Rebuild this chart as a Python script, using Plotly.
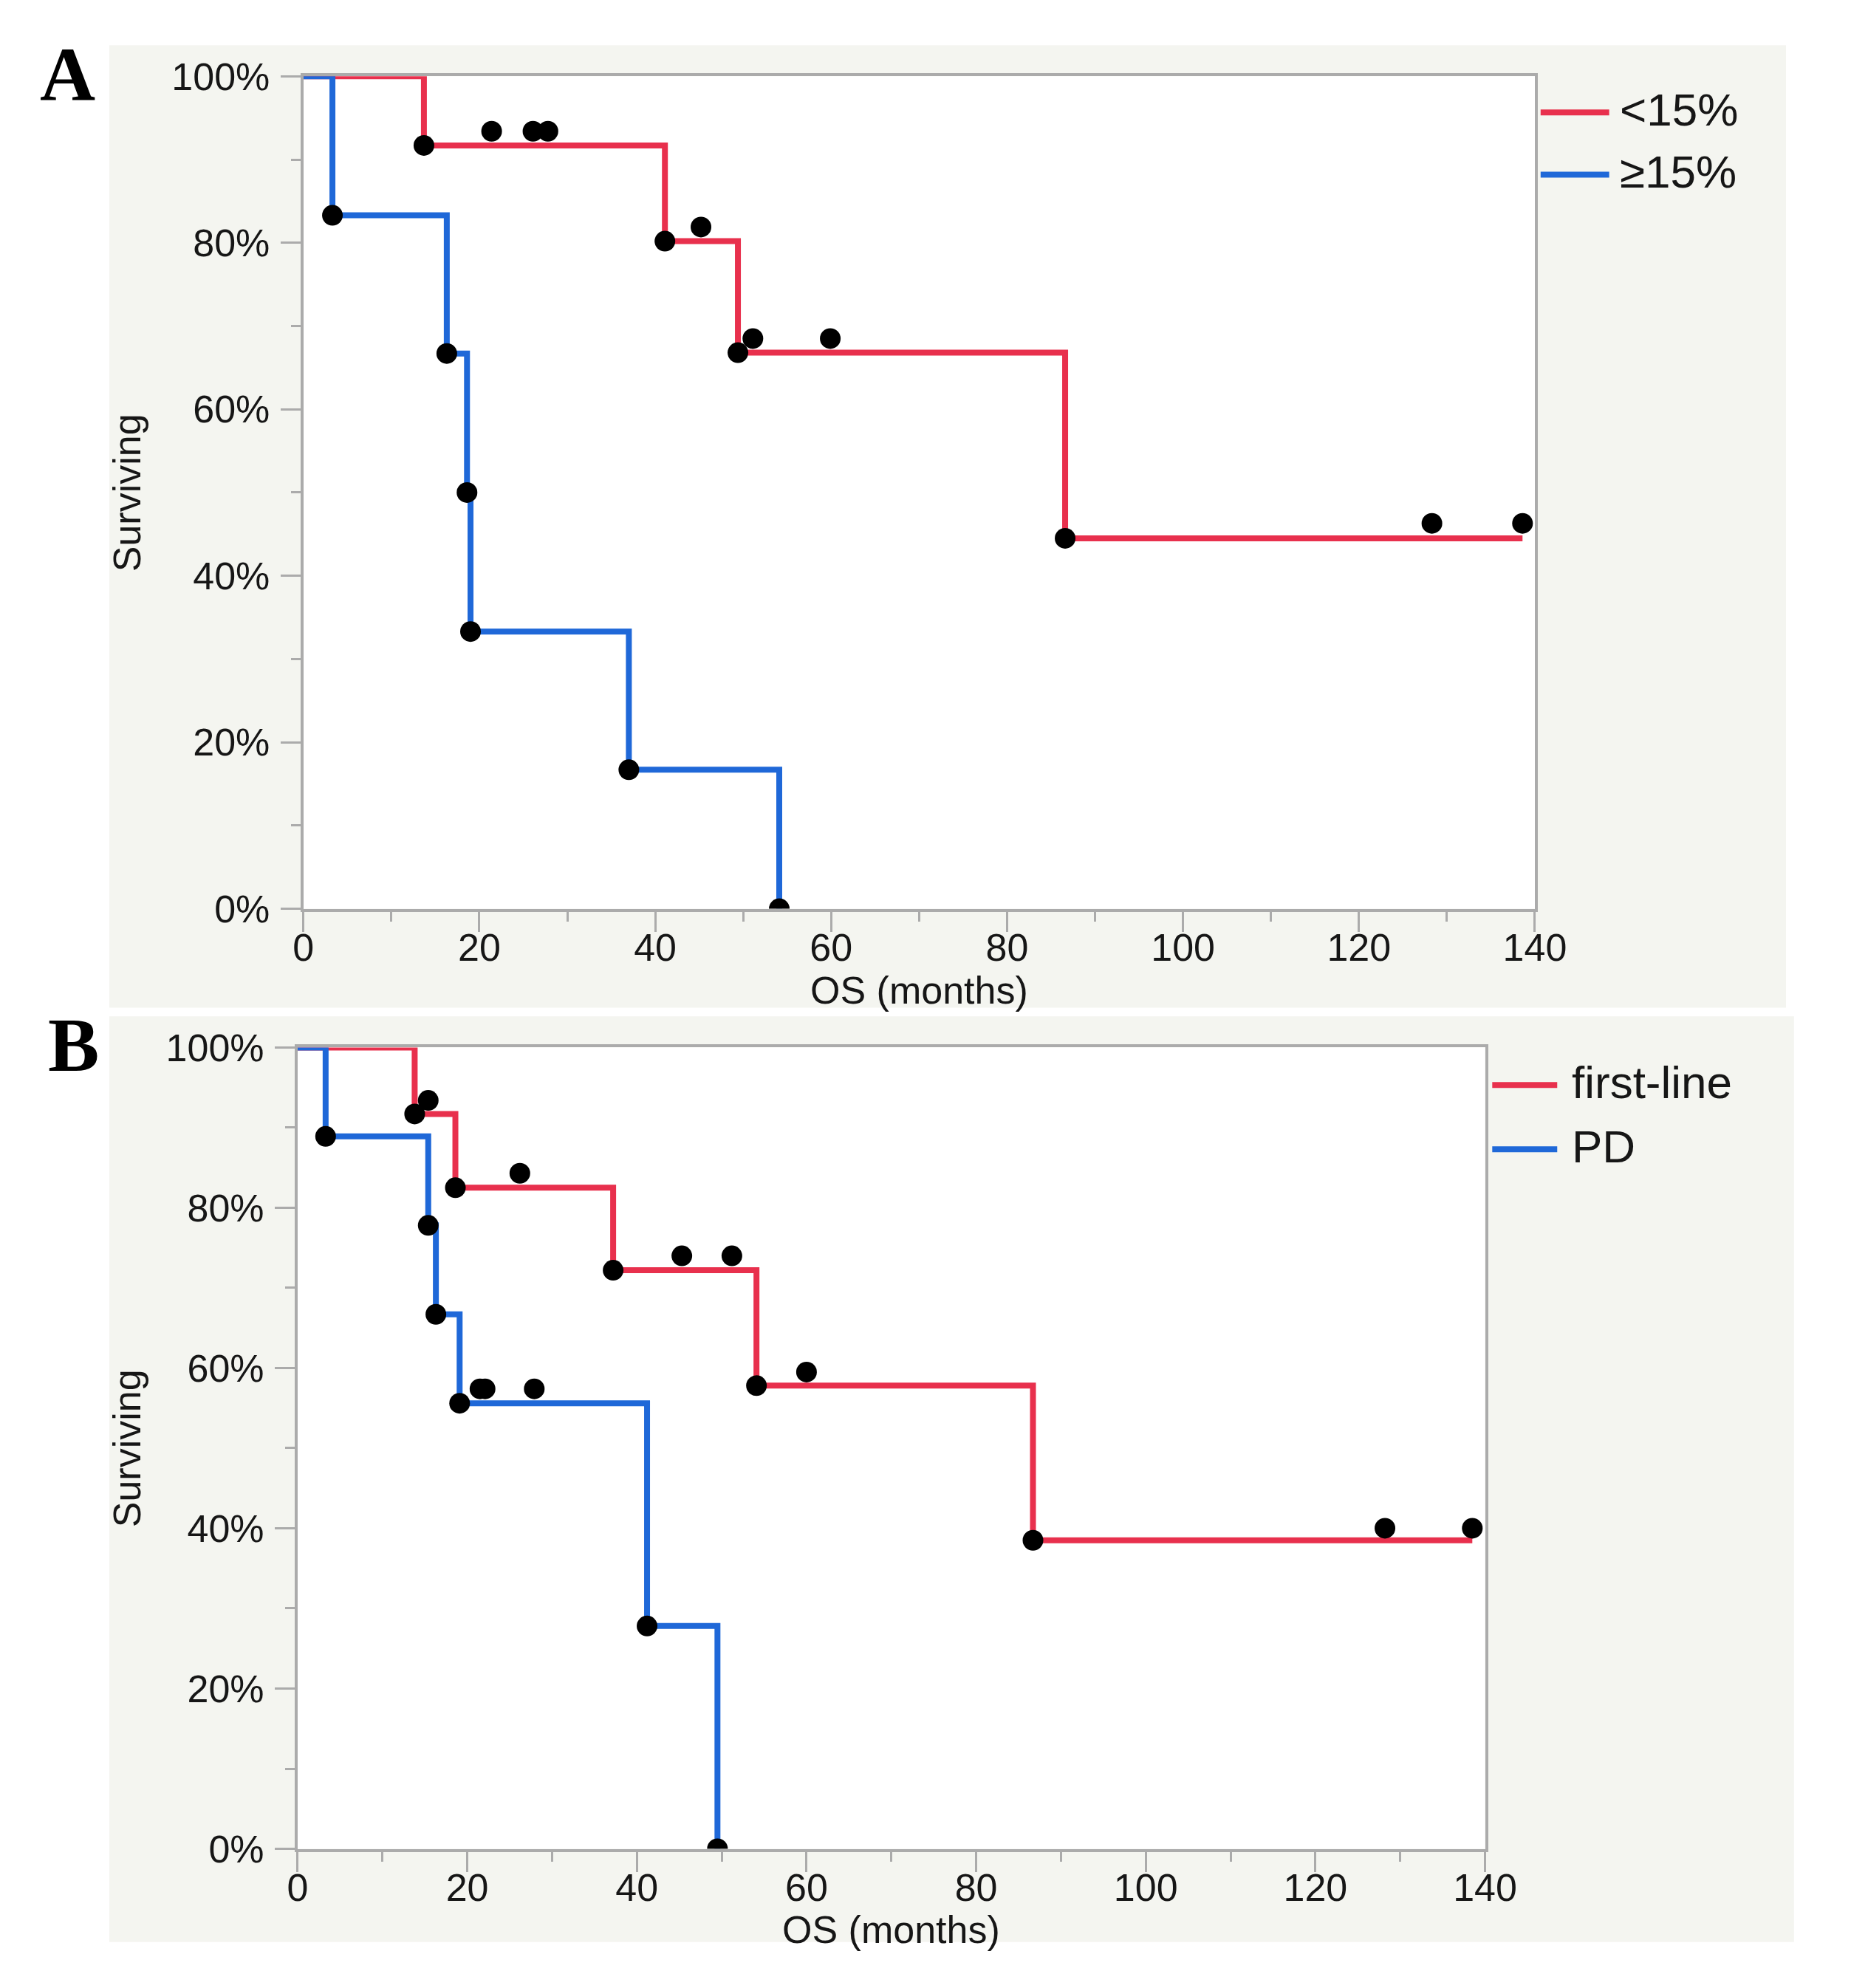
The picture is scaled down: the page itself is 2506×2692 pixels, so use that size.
import plotly.graph_objects as go

W, H = 2506, 2692

# ---------------- Panel A ----------------
a_low_time = [0, 13.7, 41.1, 49.4, 86.6, 138.6]
a_low_surv = [1.0, 0.917, 0.802, 0.668, 0.445, 0.445]
a_low_event_time = [13.7, 41.1, 49.4, 86.6]
a_low_event_surv = [0.917, 0.802, 0.668, 0.445]
a_low_cens_time = [21.4, 26.1, 27.8, 45.2, 51.1, 59.9, 128.3, 138.6]
a_low_cens_surv = [0.934, 0.934, 0.934, 0.819, 0.685, 0.685, 0.463, 0.463]

a_high_time = [0, 3.3, 16.3, 18.6, 19.0, 37.0, 54.1]
a_high_surv = [1.0, 0.833, 0.667, 0.5, 0.333, 0.167, 0.0]
a_high_event_time = [3.3, 16.3, 18.6, 19.0, 37.0, 54.1]
a_high_event_surv = [0.833, 0.667, 0.5, 0.333, 0.167, 0.0]

a_names = ["<15%", "\u226515%"]

# ---------------- Panel B ----------------
b_first_time = [0, 13.8, 18.6, 37.2, 54.1, 86.7, 138.5]
b_first_surv = [1.0, 0.917, 0.825, 0.722, 0.578, 0.385, 0.385]
b_first_event_time = [13.8, 18.6, 37.2, 54.1, 86.7]
b_first_event_surv = [0.917, 0.825, 0.722, 0.578, 0.385]
b_first_cens_time = [15.4, 26.2, 45.3, 51.2, 60.0, 128.2, 138.5]
b_first_cens_surv = [0.934, 0.843, 0.740, 0.740, 0.595, 0.400, 0.400]

b_pd_time = [0, 3.3, 15.4, 16.3, 19.1, 41.2, 49.5]
b_pd_surv = [1.0, 0.889, 0.778, 0.667, 0.556, 0.278, 0.0]
b_pd_event_time = [3.3, 15.4, 16.3, 19.1, 41.2, 49.5]
b_pd_event_surv = [0.889, 0.778, 0.667, 0.556, 0.278, 0.0]
b_pd_cens_time = [21.5, 22.1, 27.9]
b_pd_cens_surv = [0.574, 0.574, 0.574]

b_names = ["first-line", "PD"]

x_ticks = [0, 20, 40, 60, 80, 100, 120, 140]
y_ticks = [0, 0.2, 0.4, 0.6, 0.8, 1.0]

RED = "#E8304D"
BLUE = "#1F68D8"
AXC = "#ABABAB"
PANEL_BG = "#F4F5F0"
FONT = "Liberation Sans"
TXT = "#161616"


def fx(px):
    return px / W


def fy(py):
    return 1 - py / H


# plot area rectangles in pixels (left, top, right, bottom)
A_BOX = (406, 76, 2112, 1228)
B_BOX = (398, 1420, 2043, 2529)

fig = go.Figure()


def add_curve(t, s, color, xa, ya):
    fig.add_trace(go.Scatter(x=t, y=s, mode="lines", line=dict(color=color, width=8, shape="hv"),
                             xaxis=xa, yaxis=ya, showlegend=False, hoverinfo="skip"))


def add_dots(t, s, xa, ya):
    fig.add_trace(go.Scatter(x=t, y=s, mode="markers", marker=dict(color="black", size=28),
                             xaxis=xa, yaxis=ya, showlegend=False, hoverinfo="skip"))


# Panel A: curves on the frame axis (x), dots on the overlaying labelled axis (x3, identical scale)
add_curve(a_low_time, a_low_surv, RED, "x", "y")
add_curve(a_high_time, a_high_surv, BLUE, "x", "y")
add_dots(a_low_event_time, a_low_event_surv, "x3", "y")
add_dots(a_low_cens_time, a_low_cens_surv, "x3", "y")
add_dots(a_high_event_time, a_high_event_surv, "x3", "y")

# Panel B
add_curve(b_first_time, b_first_surv, RED, "x2", "y2")
add_curve(b_pd_time, b_pd_surv, BLUE, "x2", "y2")
add_dots(b_first_event_time, b_first_event_surv, "x4", "y2")
add_dots(b_first_cens_time, b_first_cens_surv, "x4", "y2")
add_dots(b_pd_event_time, b_pd_event_surv, "x4", "y2")
add_dots(b_pd_cens_time, b_pd_cens_surv, "x4", "y2")


def xaxis(box, anchor):
    # frame, major and minor ticks (labels come from the overlaying axis)
    return dict(domain=[fx(box[0]), fx(box[2])], range=[0, 140], anchor=anchor,
                tickmode="array", tickvals=x_ticks, showticklabels=False,
                showline=True, mirror=True, linecolor=AXC, linewidth=4,
                ticks="outside", ticklen=27, tickwidth=3, tickcolor=AXC,
                minor=dict(dtick=10, tick0=0, ticks="outside", ticklen=13, tickwidth=3,
                           tickcolor=AXC, showgrid=False),
                showgrid=False, zeroline=False, fixedrange=True)


def xlabels(base, anchor):
    return dict(overlaying=base, anchor=anchor, side="bottom", range=[0, 140],
                tickmode="array", tickvals=x_ticks, ticktext=[str(v) for v in x_ticks],
                ticks="", showline=False, showgrid=False, zeroline=False, fixedrange=True,
                ticklabelstandoff=17,
                tickfont=dict(family=FONT, size=52, color=TXT))


def yaxis(box, anchor):
    return dict(domain=[fy(box[3]), fy(box[1])], range=[0, 1], anchor=anchor,
                tickmode="array", tickvals=y_ticks,
                ticktext=[f"{int(round(v * 100))}%" for v in y_ticks],
                showline=True, mirror=True, linecolor=AXC, linewidth=4,
                ticks="outside", ticklen=27, tickwidth=3, tickcolor=AXC,
                ticklabelstandoff=4,
                minor=dict(dtick=0.1, tick0=0, ticks="outside", ticklen=13, tickwidth=3,
                           tickcolor=AXC, showgrid=False),
                showgrid=False, zeroline=False, fixedrange=True,
                tickfont=dict(family=FONT, size=52, color=TXT))


shapes = []
# panel backgrounds
for (l, t, r, b) in [(137, 33, 2460, 1365), (137, 1377, 2471, 2658)]:
    shapes.append(dict(type="rect", xref="paper", yref="paper", x0=fx(l), x1=fx(r), y0=fy(b), y1=fy(t),
                       fillcolor=PANEL_BG, line=dict(width=0), layer="below"))
# plot area white backgrounds
for box in [A_BOX, B_BOX]:
    shapes.append(dict(type="rect", xref="paper", yref="paper", x0=fx(box[0]), x1=fx(box[2]),
                       y0=fy(box[3]), y1=fy(box[1]), fillcolor="white", line=dict(width=0), layer="below"))

annotations = []
# legend entries (line sample + label)
legend_items = [
    (2120, 2215, 126, 2228, 122, a_names[0], RED),
    (2120, 2215, 212, 2228, 208, a_names[1], BLUE),
    (2053, 2143, 1472, 2161, 1468, b_names[0], RED),
    (2053, 2143, 1561, 2161, 1557, b_names[1], BLUE),
]
for (lx0, lx1, ly, tx, ty, name, col) in legend_items:
    shapes.append(dict(type="line", xref="paper", yref="paper", x0=fx(lx0), x1=fx(lx1), y0=fy(ly), y1=fy(ly),
                       line=dict(color=col, width=8)))
    annotations.append(dict(xref="paper", yref="paper", x=fx(tx), y=fy(ty), text=name, showarrow=False,
                            xanchor="left", yanchor="middle",
                            font=dict(family=FONT, size=62, color=TXT)))

# panel letters
for (lx, ly, letter) in [(79, 73, "A"), (88, 1416, "B")]:
    annotations.append(dict(xref="paper", yref="paper", x=fx(lx), y=fy(ly), text=f"<b>{letter}</b>",
                            showarrow=False, xanchor="center", yanchor="middle",
                            font=dict(family="Liberation Serif", size=104, color="black")))

# axis titles
for (cx, cy) in [((A_BOX[0] + A_BOX[2]) / 2, 1341), ((B_BOX[0] + B_BOX[2]) / 2, 2641)]:
    annotations.append(dict(xref="paper", yref="paper", x=fx(cx), y=fy(cy), text="OS (months)",
                            showarrow=False, xanchor="center", yanchor="middle",
                            font=dict(family=FONT, size=52, color=TXT)))
for (cx, cy) in [(162, (A_BOX[1] + A_BOX[3]) / 2), (162, (B_BOX[1] + B_BOX[3]) / 2)]:
    annotations.append(dict(xref="paper", yref="paper", x=fx(cx), y=fy(cy), text="Surviving",
                            showarrow=False, xanchor="center", yanchor="middle", textangle=-90,
                            font=dict(family=FONT, size=52, color=TXT)))

fig.update_layout(
    width=W, height=H, autosize=False,
    margin=dict(l=0, r=0, t=0, b=0),
    paper_bgcolor="white", plot_bgcolor="rgba(0,0,0,0)",
    xaxis=xaxis(A_BOX, "y"), yaxis=yaxis(A_BOX, "x"),
    xaxis2=xaxis(B_BOX, "y2"), yaxis2=yaxis(B_BOX, "x2"),
    xaxis3=xlabels("x", "y"), xaxis4=xlabels("x2", "y2"),
    shapes=shapes, annotations=annotations, showlegend=False,
)

fig.write_html("out.html", config={"displayModeBar": False},
               post_script="document.body.style.margin='0';document.body.style.overflow='hidden';")
